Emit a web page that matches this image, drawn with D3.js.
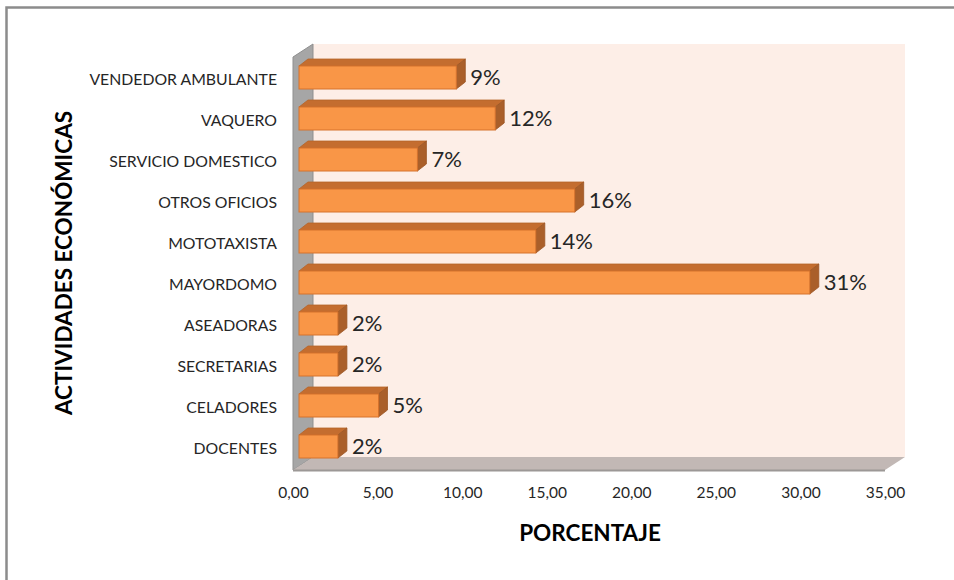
<!DOCTYPE html>
<html>
<head>
<meta charset="utf-8">
<script src="https://cdn.jsdelivr.net/npm/d3@7"></script>
<style>
  body { margin: 0; background: #fff; }
  svg { display: block; font-family: Lato, "Open Sans", sans-serif; }
</style>
</head>
<body>
<svg id="chart"></svg>
<script>
const width = 954;
const height = 580;

// categories from top to bottom, as drawn
const categories = ["VENDEDOR AMBULANTE", "VAQUERO", "SERVICIO DOMESTICO", "OTROS OFICIOS",
  "MOTOTAXISTA", "MAYORDOMO", "ASEADORAS", "SECRETARIAS", "CELADORES", "DOCENTES"];
const values = [9.3, 11.6, 7.0, 16.3, 14.0, 30.2, 2.3, 2.3, 4.7, 2.3];
const valueLabels = ["9%", "12%", "7%", "16%", "14%", "31%", "2%", "2%", "5%", "2%"];
const xTicks = [0, 5, 10, 15, 20, 25, 30, 35];

const data = categories.map((c, i) => ({ cat: c, value: values[i], label: valueLabels[i] }));

const svg = d3.select("#chart")
  .attr("width", width)
  .attr("height", height);

// outer frame
svg.append("rect")
  .attr("x", 6.5).attr("y", 7.5)
  .attr("width", 980).attr("height", 620)
  .attr("fill", "none")
  .attr("stroke", "#8c8c8c")
  .attr("stroke-width", 2.5);

// 3d depth of the plot box and of the bars
const depth = { dx: 20, dy: -13 };
const barDepth = { dx: 9, dy: -7 };

// axis scale on the front plane, bar scale a bit further back
const xAxisScale = d3.scaleLinear().domain([0, 35]).range([293, 885]);
const x = d3.scaleLinear().domain([0, 35]).range([299, 891]);
const y = d3.scalePoint().domain(categories).range([77.5, 446.5]);
const barH = 23;

const floorY = 470;
const topY = 57;

// back wall
svg.append("rect")
  .attr("x", xAxisScale(0) + depth.dx)
  .attr("y", topY + depth.dy)
  .attr("width", xAxisScale(35) - xAxisScale(0))
  .attr("height", floorY - topY)
  .attr("fill", "#fdeee7");

// left wall
const lx0 = xAxisScale(0);
svg.append("polygon")
  .attr("points", [
    [lx0, topY], [lx0 + depth.dx, topY + depth.dy],
    [lx0 + depth.dx, floorY + depth.dy], [lx0, floorY]
  ].join(" "))
  .attr("fill", "#a6a6a6")
  .attr("stroke", "#8f8f8f")
  .attr("stroke-width", 1);

// floor
const fx1 = xAxisScale(35);
svg.append("polygon")
  .attr("points", [
    [lx0, floorY], [lx0 + depth.dx, floorY + depth.dy],
    [fx1 + depth.dx, floorY + depth.dy], [fx1, floorY]
  ].join(" "))
  .attr("fill", "#c2b8b5");
svg.append("line")
  .attr("x1", lx0).attr("x2", fx1)
  .attr("y1", floorY + 0.5).attr("y2", floorY + 0.5)
  .attr("stroke", "#9c9896")
  .attr("stroke-width", 2);

// bars
const bar = svg.append("g").selectAll("g")
  .data(data)
  .enter().append("g");

bar.append("polygon")
  .attr("points", d => {
    const t = y(d.cat) - barH / 2;
    return [[x(0), t], [x(0) + barDepth.dx, t + barDepth.dy],
      [x(d.value) + barDepth.dx, t + barDepth.dy], [x(d.value), t]].join(" ");
  })
  .attr("fill", "#c46d2f")
  .attr("stroke", "#b5642a")
  .attr("stroke-width", 0.8);

bar.append("polygon")
  .attr("points", d => {
    const t = y(d.cat) - barH / 2;
    const b = t + barH;
    const r = x(d.value);
    return [[r, t], [r + barDepth.dx, t + barDepth.dy],
      [r + barDepth.dx, b + barDepth.dy], [r, b]].join(" ");
  })
  .attr("fill", "#aa5f2a")
  .attr("stroke", "#9c5625")
  .attr("stroke-width", 0.8);

bar.append("rect")
  .attr("x", x(0))
  .attr("y", d => y(d.cat) - barH / 2)
  .attr("width", d => x(d.value) - x(0))
  .attr("height", barH)
  .attr("fill", "#f99647")
  .attr("stroke", "#d6722c")
  .attr("stroke-width", 1);

bar.append("text")
  .attr("x", d => x(d.value) + barDepth.dx + 5)
  .attr("y", d => y(d.cat))
  .attr("dy", "0.36em")
  .attr("font-size", 22)
  .attr("fill", "#262626")
  .text(d => d.label);

// category labels
svg.append("g").selectAll("text")
  .data(categories)
  .enter().append("text")
  .attr("x", 277)
  .attr("y", d => y(d) + 2)
  .attr("dy", "0.36em")
  .attr("text-anchor", "end")
  .attr("font-size", 15.8)
  .attr("fill", "#262626")
  .text(d => d);

// x axis
const xAxis = d3.axisBottom(xAxisScale)
  .tickValues(xTicks)
  .tickSize(0)
  .tickPadding(0)
  .tickFormat(d => d.toFixed(2).replace(".", ","));

const gx = svg.append("g")
  .attr("transform", `translate(0, ${floorY + 17})`)
  .call(xAxis);
gx.select(".domain").remove();
gx.selectAll("text")
  .attr("font-family", "Lato, 'Open Sans', sans-serif")
  .attr("font-size", 15.5)
  .attr("fill", "#262626");

// axis titles
svg.append("text")
  .attr("x", 590)
  .attr("y", 541)
  .attr("text-anchor", "middle")
  .attr("font-size", 22.5)
  .attr("font-weight", "bold")
  .attr("fill", "#000")
  .text("PORCENTAJE");

svg.append("text")
  .attr("transform", "translate(72, 263) rotate(-90)")
  .attr("text-anchor", "middle")
  .attr("font-size", 22.5)
  .attr("font-weight", "bold")
  .attr("fill", "#000")
  .text("ACTIVIDADES ECONÓMICAS");
</script>
</body>
</html>
